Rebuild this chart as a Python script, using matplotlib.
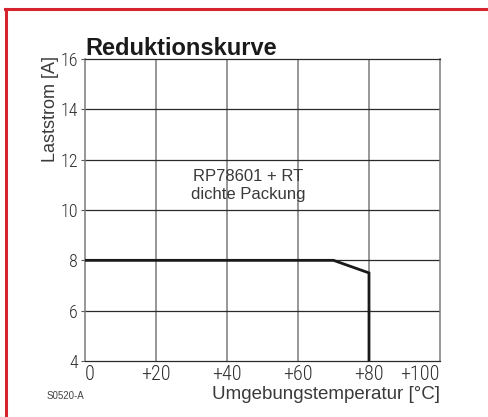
import matplotlib.pyplot as plt
from matplotlib.lines import Line2D

# Reduktionskurve RP78601 + RT, dichte Packung
temp = [0, 70, 80, 80]
strom = [8, 8, 7.5, 4]
xticks = [0, 20, 40, 60, 80, 100]
xticklabels = ['0', '+20', '+40', '+60', '+80', '+100']
yticks = [4, 6, 8, 10, 12, 14, 16]

narrow = ['Roboto Condensed', 'Liberation Sans Narrow', 'Roboto', 'DejaVu Sans']
plain = ['Liberation Sans', 'DejaVu Sans']
plt.rcParams['font.family'] = narrow

fig = plt.figure(figsize=(4.89, 4.17), dpi=100)
W, H = 489, 417
ax = fig.add_axes([85 / W, 1 - 361 / H, 355 / W, 302 / H])

ax.set_xlim(0, 100)
ax.set_ylim(4, 16)
ax.set_xticks(xticks)
ax.set_xticklabels(xticklabels, fontsize=14.5, fontweight='light')
ax.set_yticks(yticks)
ax.set_yticklabels([str(v) for v in yticks], fontsize=13, fontweight='light')
xl = ax.get_xticklabels()
xl[0].set_horizontalalignment('left')
xl[-1].set_horizontalalignment('right')

for x in xticks[1:-1]:
    ax.axvline(x, color='#7a7a7a', lw=1.1, zorder=1)
for y in yticks[1:-1]:
    ax.axhline(y, color='#2a2a2a', lw=0.9, zorder=1)

ax.plot(temp, strom, color='#1a1a1a', lw=2.0, zorder=3, solid_joinstyle='miter')

for side in ['left', 'right']:
    ax.spines[side].set_color('#7a7a7a')
    ax.spines[side].set_linewidth(1.1)
for side in ['top', 'bottom']:
    ax.spines[side].set_color('#2a2a2a')
    ax.spines[side].set_linewidth(0.9)

ax.tick_params(axis='both', length=3, width=0.8, color='#555555',
               labelcolor='#2e2e2e', pad=2)
ax.tick_params(axis='x', length=0, pad=3)

ax.text(46, 10.97, 'RP78601 + RT\ndichte Packung', ha='center', va='center',
        fontsize=12, color='#3a3a3a', family=plain, linespacing=1.25)

fig.text(85 / W, 1 - 55 / H, 'Reduktionskurve', fontsize=17, fontweight='bold',
         color='#1a1a1a', family=plain, ha='left', va='baseline')
fig.text(51 / W, 1 - 109 / H, 'Laststrom [A]', rotation=90, fontsize=13,
         color='#3a3a3a', family=plain, ha='center', va='center')
fig.text(440 / W, 1 - 399 / H, 'Umgebungstemperatur [°C]', fontsize=13.5,
         color='#3a3a3a', family=plain, ha='right', va='baseline')
fig.text(47 / W, 1 - 399 / H, 'S0520-A', fontsize=7, color='#444444',
         family=plain, ha='left', va='baseline')

# roter Rahmen
fig.add_artist(Line2D([5.5 / W, 5.5 / W], [0, 1 - 8.5 / H], color='#d7232e', lw=2.2,
                      transform=fig.transFigure))
fig.add_artist(Line2D([4.5 / W, 1], [1 - 8.5 / H, 1 - 8.5 / H], color='#d7232e', lw=2.2,
                      transform=fig.transFigure))

fig.savefig('out.png', dpi=100)
